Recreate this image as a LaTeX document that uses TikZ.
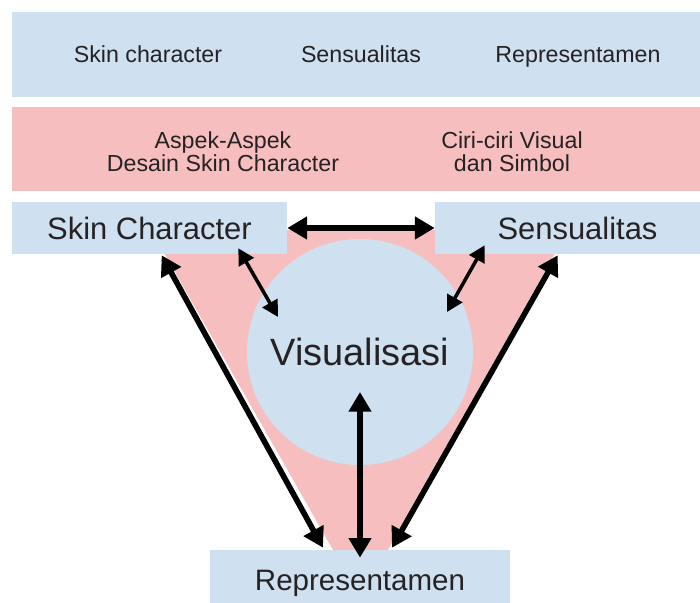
\documentclass[tikz,border=0pt]{standalone}
\usepackage{fontspec}
\setmainfont{Liberation Sans}
\usepackage{xcolor}
\usetikzlibrary{arrows.meta,calc}
\definecolor{paleBlue}{RGB}{207,224,241}
\definecolor{palePink}{RGB}{246,190,190}
\definecolor{inkGray}{RGB}{38,34,36}
\newcommand{\Px}{0.025cm}
\newcommand{\BandFont}{\fontsize{16.5}{16.5}\selectfont}
\newcommand{\BoxFont}{\fontsize{22}{24}\selectfont}
\newcommand{\RepFont}{\fontsize{21}{23}\selectfont}
\newcommand{\VisFont}{\fontsize{27}{29}\selectfont}

\begin{document}
\begin{tikzpicture}[
  x=\Px, y=-\Px,
  band/.style={inner sep=0pt, minimum width=17.2cm},
  bandtext/.style={font=\BandFont, text=inkGray, align=center},
  bandline/.style={bandtext, text height=12pt, text depth=3.5pt},
  box/.style={fill=paleBlue, inner sep=0pt, minimum height=1.3cm, text=inkGray, text depth=0pt},
  bigarrow/.style={line width=4pt, {Triangle[length=14pt,width=15.5pt]}-{Triangle[length=14pt,width=15.5pt]}},
  smallarrow/.style={line width=2.5pt, {Triangle[length=11.5pt,width=12pt]}-{Triangle[length=11.5pt,width=12pt]}}
]
\useasboundingbox (0,0) rectangle (700,603);

% Bands
\node[band, fill=paleBlue, minimum height=2.125cm] (topband) at (356,54.5) {};
\node[band, fill=palePink, minimum height=2.1cm] (pinkband) at (356,149) {};

\node[bandline] (tskin) at (148,57) {Skin character};
\node[bandline] (tsens) at (361,57) {Sensualitas};
\node[bandline] (trep) at (578,57) {Representamen};
\node[bandtext] (taspek) at (223,151.5) {Aspek-Aspek\\Desain Skin Character};
\node[bandtext] (tciri) at (512,151.5) {Ciri-ciri Visual\\dan Simbol};

% Pink funnel
\fill[palePink] (151,230) -- (568,230) -- (388,550) -- (333,550) -- cycle;

% Circle and boxes
\node[circle, fill=paleBlue, minimum size=5.65cm, inner sep=0pt, font=\VisFont,
      text=inkGray, text height=19.3pt, text depth=0pt] (visual) at (360,352) {Visualisasi};
\node[box, minimum width=6.875cm, font=\BoxFont, text height=15.8pt] (skinbox) at (149.5,228) {Skin Character};
\node[box, minimum width=7.125cm, font=\BoxFont, text height=15.8pt] (sensbox) at (577.5,228) {Sensualitas};
\node[box, minimum width=7.5cm, minimum height=1.5cm, font=\RepFont, text height=15pt] (repbox) at (360,580) {Representamen};

% Arrows
\draw[bigarrow] (skinbox.east) -- (sensbox.west);
\draw[bigarrow, line width=3.6pt] ($(visual.center)+(0,40)$) -- ($(repbox.north)+(0,8)$);
\draw[bigarrow] ($(skinbox.south west)+(150,1)$) -- ($(repbox.north)+(-37,-2)$);
\draw[bigarrow] ($(sensbox.south west)+(123,1)$) -- ($(repbox.north)+(32,-2)$);
\draw[smallarrow] ($(skinbox.south east)+(-49,-6)$) -- ($(visual.center)+(-82,-35)$);
\draw[smallarrow] ($(sensbox.south west)+(50,-9)$) -- ($(visual.center)+(87,-40)$);

\end{tikzpicture}
\end{document}
